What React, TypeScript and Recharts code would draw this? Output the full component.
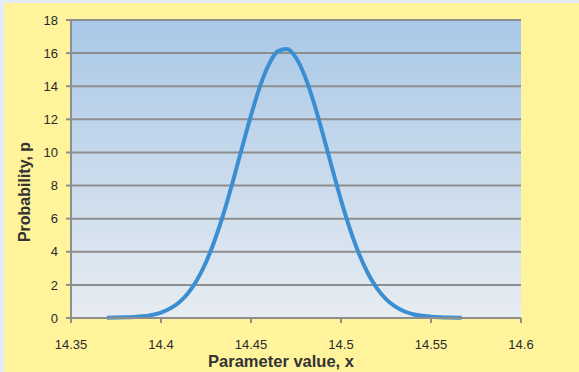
import React from "react";
import {
  LineChart,
  Line,
  XAxis,
  YAxis,
  CartesianGrid,
  Label
} from "recharts";

// x values (parameter) and probability density
const xValues = [
  14.37, 14.375, 14.38, 14.385, 14.39, 14.395, 14.4, 14.405, 14.41, 14.415,
  14.42, 14.425, 14.43, 14.435, 14.44, 14.445, 14.45, 14.455, 14.46, 14.465,
  14.47, 14.475, 14.48, 14.485, 14.49, 14.495, 14.5, 14.505, 14.51, 14.515,
  14.52, 14.525, 14.53, 14.535, 14.54, 14.545, 14.55, 14.555, 14.56, 14.567
];
const pValues = [
  0.02, 0.03, 0.04, 0.06, 0.1, 0.18, 0.33, 0.57, 0.94, 1.5,
  2.3, 3.37, 4.74, 6.39, 8.28, 10.28, 12.24, 13.99, 15.33, 16.12,
  16.25, 15.72, 14.58, 12.98, 11.08, 9.07, 7.12, 5.37, 3.88, 2.69,
  1.79, 1.14, 0.7, 0.41, 0.23, 0.13, 0.08, 0.05, 0.03, 0.02
];
const xTicks = [14.35, 14.4, 14.45, 14.5, 14.55, 14.6];
const yTicks = [0, 2, 4, 6, 8, 10, 12, 14, 16, 18];

const data = xValues.map((x, i) => ({ x, p: pValues[i] }));

const font = "'Liberation Sans', Arial, sans-serif";
const tickStyle = { fontSize: 13, fill: "#2a2a2a", fontFamily: font };

export default function App() {
  return (
    <div style={{ width: 579, height: 372, background: "#e4ecf7", position: "relative" }}>
      <style>{`body{margin:0}`}</style>
      <div
        style={{
          position: "absolute",
          left: 4,
          top: 3,
          right: 0,
          bottom: 0,
          background: "#fff39c"
        }}
      />
      <div style={{ position: "absolute", left: 0, top: 0 }}>
        <LineChart
          width={579}
          height={372}
          data={data}
          margin={{ top: 20, right: 58, bottom: 24, left: 11 }}
        >
          <defs>
            <linearGradient id="plotBg" x1="0" y1="0" x2="0" y2="1">
              <stop offset="0%" stopColor="#a9c8e7" />
              <stop offset="100%" stopColor="#e7ecf1" />
            </linearGradient>
          </defs>
          <CartesianGrid
            vertical={false}
            stroke="#8e8e8e"
            strokeWidth={2}
            fill="url(#plotBg)"
            fillOpacity={1}
          />
          <XAxis
            dataKey="x"
            type="number"
            domain={[14.35, 14.6]}
            ticks={xTicks}
            allowDataOverflow
            height={30}
            tick={tickStyle}
            tickSize={5}
            tickMargin={17}
            stroke="#8e8e8e"
            strokeWidth={2}
          >
            <Label
              content={() => (
                <text
                  x={281}
                  y={367}
                  textAnchor="middle"
                  fontFamily={font}
                  fontWeight="bold"
                  fontSize={16.5}
                  fill="#333333"
                >
                  Parameter value, x
                </text>
              )}
            />
          </XAxis>
          <YAxis
            type="number"
            domain={[0, 18]}
            ticks={yTicks}
            width={60}
            tick={tickStyle}
            tickSize={5}
            tickMargin={8}
            stroke="#8e8e8e"
            strokeWidth={2}
          >
            <Label
              content={() => (
                <text
                  x={30}
                  y={192}
                  transform="rotate(-90 30 192)"
                  textAnchor="middle"
                  fontFamily={font}
                  fontWeight="bold"
                  fontSize={16}
                  fill="#333333"
                >
                  Probability, p
                </text>
              )}
            />
          </YAxis>
          <Line
            type="monotone"
            dataKey="p"
            stroke="#3b8ed2"
            strokeWidth={4}
            dot={false}
            isAnimationActive={false}
          />
        </LineChart>
      </div>
    </div>
  );
}
